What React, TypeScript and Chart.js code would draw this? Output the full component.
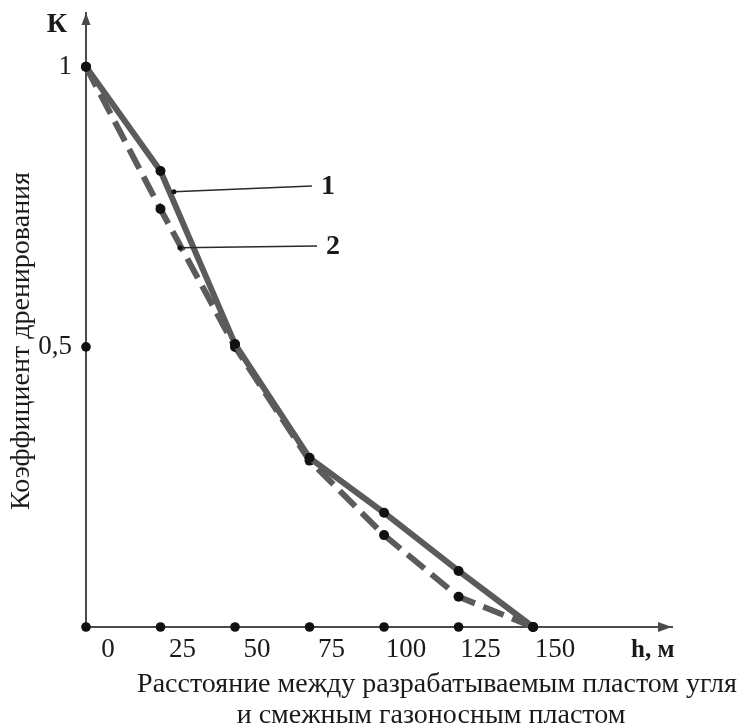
import React, { useEffect, useRef } from 'react';
import { Chart, registerables } from 'chart.js';

Chart.register(...registerables);

// ---- data ----
const distances = [0, 25, 50, 75, 100, 125, 150];
const series1 = [1, 0.814, 0.505, 0.302, 0.204, 0.1, 0];
const series2 = [1, 0.746, 0.5, 0.297, 0.164, 0.054, 0];
const seriesNames = ['1', '2'];
const xTickValues = [0, 25, 50, 75, 100, 125, 150];
const yTickValues = [0.5, 1];
const yTickLabels = ['0,5', '1'];
const calloutStartX = [29.5, 31.5];
const calloutStartY = [0.777, 0.677];
const calloutEndX = [75.8, 77.5];
const calloutEndY = [0.787, 0.68];
const yAxisTitle = 'Коэффициент дренирования';
const xAxisTitle = ['Расстояние между разрабатываемым пластом угля', 'и смежным газоносным пластом'];
const yAxisSymbol = 'К';
const xAxisSymbol = 'h, м';

const SERIF = '"Liberation Serif", "Times New Roman", serif';
const LINE_GRAY = '#5b5b5b';
const AXIS_GRAY = '#4a4a4a';
const DOT = '#111111';

const decorations = {
  id: 'decorations',
  afterDraw(chart: any) {
    const { ctx, chartArea } = chart;
    const xs = chart.scales.x;
    const ys = chart.scales.y;
    ctx.save();
    // axis arrows
    ctx.fillStyle = AXIS_GRAY;
    ctx.beginPath();
    ctx.moveTo(chartArea.left, chartArea.top);
    ctx.lineTo(chartArea.left - 4.5, chartArea.top + 12);
    ctx.lineTo(chartArea.left + 4.5, chartArea.top + 12);
    ctx.closePath();
    ctx.fill();
    ctx.beginPath();
    ctx.moveTo(chartArea.right, chartArea.bottom);
    ctx.lineTo(chartArea.right - 14, chartArea.bottom - 5);
    ctx.lineTo(chartArea.right - 14, chartArea.bottom + 5);
    ctx.closePath();
    ctx.fill();

    ctx.fillStyle = '#1a1a1a';
    // axis symbols
    ctx.font = `bold 28px ${SERIF}`;
    ctx.textAlign = 'center';
    ctx.textBaseline = 'middle';
    ctx.fillText(yAxisSymbol, chartArea.left - 29, chartArea.top + 12);
    ctx.font = `bold 25px ${SERIF}`;
    ctx.textAlign = 'left';
    ctx.textBaseline = 'alphabetic';
    ctx.fillText(xAxisSymbol, chartArea.right - 41, chartArea.bottom + 30);

    // callout labels
    ctx.font = `bold 28px ${SERIF}`;
    ctx.textAlign = 'left';
    ctx.textBaseline = 'middle';
    seriesNames.forEach((name, i) => {
      ctx.fillText(name, xs.getPixelForValue(calloutEndX[i]) + 9, ys.getPixelForValue(calloutEndY[i]) + 1);
    });

    // axis titles
    ctx.font = `28px ${SERIF}`;
    ctx.textAlign = 'center';
    ctx.textBaseline = 'alphabetic';
    ctx.fillText(xAxisTitle[0], 437, chartArea.bottom + 65);
    ctx.fillText(xAxisTitle[1], 431, chartArea.bottom + 96);

    ctx.translate(22, 341);
    ctx.rotate(-Math.PI / 2);
    ctx.textBaseline = 'middle';
    ctx.fillText(yAxisTitle, 0, 0);
    ctx.restore();
  },
};

const noPad = (s: any) => {
  s.paddingTop = 0;
  s.paddingBottom = 0;
  s.paddingLeft = 0;
  s.paddingRight = 0;
};

export default function App() {
  const ref = useRef<HTMLCanvasElement>(null);

  useEffect(() => {
    if (!ref.current) return;
    const pts = (xsArr: number[], ysArr: number[]) => xsArr.map((x, i) => ({ x, y: ysArr[i] }));
    const chart = new Chart(ref.current, {
      type: 'line',
      data: {
        datasets: [
          ...seriesNames.map((name, i) => ({
            label: 'callout ' + name,
            data: [
              { x: calloutStartX[i], y: calloutStartY[i] },
              { x: calloutEndX[i], y: calloutEndY[i] },
            ],
            borderColor: '#2a2a2a',
            borderWidth: 1.5,
            pointRadius: [2.5, 0],
            pointBackgroundColor: '#111',
            pointBorderWidth: 0,
            clip: false as any,
          })),
          {
            label: 'x ticks',
            data: xTickValues.map((x) => ({ x, y: 0 })),
            showLine: false,
            pointRadius: 4.8,
            pointBackgroundColor: DOT,
            pointBorderWidth: 0,
            clip: false as any,
          },
          {
            label: 'y ticks',
            data: yTickValues.map((y) => ({ x: 0, y })),
            showLine: false,
            pointRadius: 4.8,
            pointBackgroundColor: DOT,
            pointBorderWidth: 0,
            clip: false as any,
          },
          {
            label: seriesNames[0],
            data: pts(distances, series1),
            borderColor: LINE_GRAY,
            borderWidth: 6,
            borderJoinStyle: 'round',
            pointRadius: 5,
            pointBackgroundColor: DOT,
            pointBorderWidth: 0,
            clip: false as any,
          },
          {
            label: seriesNames[1],
            data: pts(distances, series2),
            borderColor: LINE_GRAY,
            borderWidth: 6,
            borderDash: [22, 9],
            pointRadius: 5,
            pointBackgroundColor: DOT,
            pointBorderWidth: 0,
            clip: false as any,
          },
        ],
      },
      options: {
        animation: false,
        responsive: true,
        maintainAspectRatio: false,
        events: [],
        layout: { padding: { top: 13, right: 88, left: 0, bottom: 0 } },
        plugins: { legend: { display: false }, tooltip: { enabled: false } },
        scales: {
          x: {
            type: 'linear',
            min: 0,
            max: 196.6,
            grid: { display: false, drawTicks: false },
            border: { display: true, color: AXIS_GRAY, width: 2 },
            afterBuildTicks: (s: any) => {
              s.ticks = xTickValues.map((v) => ({ value: v }));
            },
            afterFit: (s: any) => {
              s.height = 123;
              noPad(s);
            },
            ticks: {
              autoSkip: false,
              maxRotation: 0,
              padding: 7,
              labelOffset: 22,
              color: '#1a1a1a',
              font: { family: SERIF, size: 27 },
              callback: (v: any) => String(v),
            },
          },
          y: {
            type: 'linear',
            min: 0,
            max: 1.096,
            grid: { display: false, drawTicks: false },
            border: { display: true, color: AXIS_GRAY, width: 2 },
            afterBuildTicks: (s: any) => {
              s.ticks = yTickValues.map((v) => ({ value: v }));
            },
            afterFit: (s: any) => {
              s.width = 86;
              noPad(s);
            },
            ticks: {
              autoSkip: false,
              padding: 14,
              color: '#1a1a1a',
              font: { family: SERIF, size: 27 },
              callback: (v: any) => {
                const i = yTickValues.indexOf(Number(v));
                return i >= 0 ? yTickLabels[i] : '';
              },
            },
          },
        },
      },
      plugins: [decorations],
    } as any);
    return () => chart.destroy();
  }, []);

  return (
    <div style={{ position: 'fixed', left: 0, top: 0, width: 739, height: 725, overflow: 'hidden', background: '#fff' }}>
      <div style={{ position: 'absolute', left: 0, top: 0, width: 760, height: 750 }}>
        <canvas ref={ref} />
      </div>
    </div>
  );
}
